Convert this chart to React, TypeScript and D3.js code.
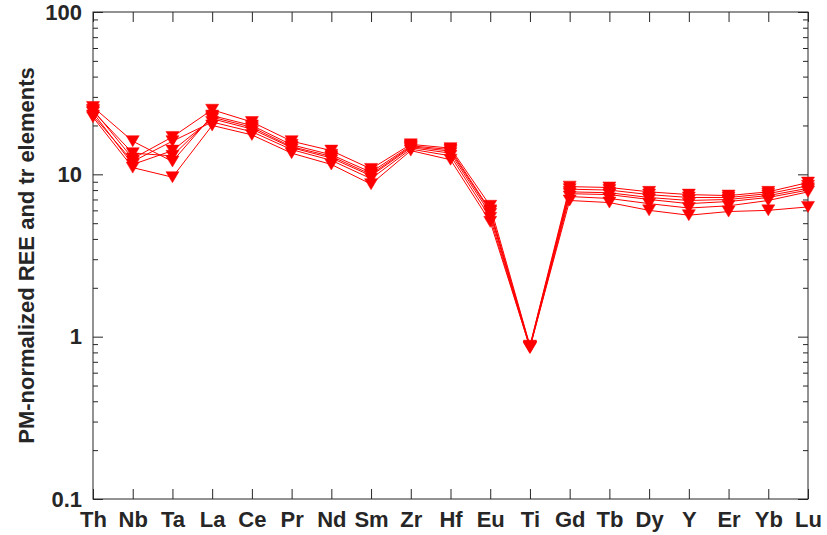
import React, { useEffect, useRef } from 'react';
import * as d3 from 'd3';

const elements = ['Th', 'Nb', 'Ta', 'La', 'Ce', 'Pr', 'Nd', 'Sm', 'Zr', 'Hf', 'Eu', 'Ti', 'Gd', 'Tb', 'Dy', 'Y', 'Er', 'Yb', 'Lu'];

// PM-normalized values per sample
const sample1 = [25, 12.5, 17, 25, 21, 16, 14, 10.8, 15.3, 14.5, 6.4, 0.88, 8.4, 8.3, 7.8, 7.5, 7.4, 7.8, 8.9];
const sample2 = [26, 16, 12, 23, 20, 15.2, 13.2, 10.3, 15, 14.2, 6.0, 0.87, 8.1, 8.0, 7.5, 7.2, 7.2, 7.6, 8.5];
const sample3 = [24, 11.5, 14, 22, 19, 14.6, 12.6, 9.8, 14.6, 13.5, 5.7, 0.86, 7.6, 7.5, 7.0, 6.6, 6.8, 7.2, 8.0];
const sample4 = [23, 12, 16, 21, 18.3, 14.2, 12.2, 9.4, 14.3, 13.0, 5.4, 0.85, 7.3, 7.1, 6.6, 6.2, 6.4, 6.9, 7.8];
const sample5 = [22.5, 11, 9.6, 20, 17.5, 13.5, 11.5, 8.7, 14, 12.3, 5.1, 0.86, 6.9, 6.7, 6.0, 5.6, 5.9, 6.0, 6.3];
const sample6 = [24.5, 13.5, 13, 22.5, 19.5, 14.8, 12.9, 10, 14.8, 13.9, 5.9, 0.87, 7.8, 7.7, 7.2, 6.9, 7.0, 7.4, 8.2];

const samples = [sample1, sample2, sample3, sample4, sample5, sample6];

const yTicks = [0.1, 1, 10, 100];
const yTickLabels = ['0.1', '1', '10', '100'];
const yLabel = 'PM-normalized REE and tr elements';

const App = () => {
  const ref = useRef<SVGSVGElement>(null);

  useEffect(() => {
    document.body.style.margin = '0';
    const svg = d3.select(ref.current);
    svg.selectAll('*').remove();

    const left = 93, right = 808, top = 12, bottom = 499;
    const axisColor = '#262626';
    const font = '"Liberation Sans", Arial, Helvetica, sans-serif';

    const x = d3.scalePoint<string>().domain(elements).range([left, right]);
    const y = d3.scaleLog().domain([0.1, 100]).range([bottom, top]);

    const minor: number[] = [];
    [0.1, 1, 10].forEach((d) => {
      for (let k = 2; k <= 9; k++) minor.push(d * k);
    });

    const styleAxis = (g: any) => {
      g.select('.domain').remove();
      g.selectAll('line').attr('stroke', axisColor).attr('stroke-width', 1);
      g.selectAll('text')
        .attr('fill', axisColor)
        .style('font-family', font)
        .style('font-weight', 'bold')
        .style('font-size', '22px');
    };

    // bottom axis with labels
    svg.append('g')
      .attr('transform', `translate(0,${bottom})`)
      .call(d3.axisBottom(x).tickSize(-10).tickPadding(12))
      .call(styleAxis);

    // top axis
    svg.append('g')
      .attr('transform', `translate(0,${top})`)
      .call(d3.axisTop(x).tickSize(-10).tickFormat(() => ''))
      .call(styleAxis);

    // left axis
    svg.append('g')
      .attr('transform', `translate(${left},0)`)
      .call(d3.axisLeft(y).tickValues(yTicks).tickSize(-10).tickPadding(11)
        .tickFormat((d, i) => yTickLabels[i]))
      .call(styleAxis);
    svg.append('g')
      .attr('transform', `translate(${left},0)`)
      .call(d3.axisLeft(y).tickValues(minor).tickSize(-5).tickFormat(() => ''))
      .call(styleAxis);

    // right axis
    svg.append('g')
      .attr('transform', `translate(${right},0)`)
      .call(d3.axisRight(y).tickValues(yTicks).tickSize(-10).tickFormat(() => ''))
      .call(styleAxis);
    svg.append('g')
      .attr('transform', `translate(${right},0)`)
      .call(d3.axisRight(y).tickValues(minor).tickSize(-5).tickFormat(() => ''))
      .call(styleAxis);

    // box
    svg.append('rect')
      .attr('x', left)
      .attr('y', top)
      .attr('width', right - left)
      .attr('height', bottom - top)
      .attr('fill', 'none')
      .attr('stroke', axisColor)
      .attr('stroke-width', 1);

    // y label
    svg.append('text')
      .attr('transform', `translate(34,${(top + bottom) / 2}) rotate(-90)`)
      .attr('text-anchor', 'middle')
      .attr('fill', axisColor)
      .style('font-family', font)
      .style('font-weight', 'bold')
      .style('font-size', '22px')
      .text(yLabel);

    const line = d3.line<number>()
      .x((d, i) => x(elements[i]) as number)
      .y((d) => y(d));

    const tri = 'M-6.5,-5.5L6.5,-5.5L0,5.5Z';

    samples.forEach((s) => {
      const g = svg.append('g');
      g.append('path')
        .datum(s)
        .attr('d', line)
        .attr('fill', 'none')
        .attr('stroke', '#ff0000')
        .attr('stroke-width', 1);
      g.selectAll('path.mk')
        .data(s)
        .enter()
        .append('path')
        .attr('class', 'mk')
        .attr('d', tri)
        .attr('transform', (d, i) => `translate(${x(elements[i])},${y(d)})`)
        .attr('fill', '#ff0000')
        .attr('stroke', '#ff0000')
        .attr('stroke-width', 0.5);
    });
  }, []);

  return <svg ref={ref} width={827} height={535} style={{ display: 'block' }} />;
};

export default App;
